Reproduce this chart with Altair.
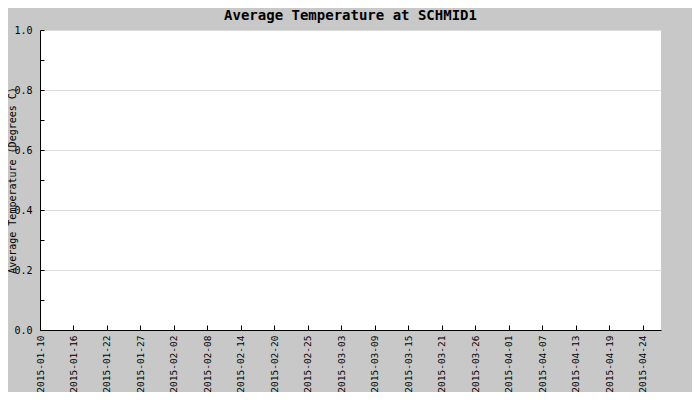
import altair as alt
import pandas as pd

# tick labels along the date axis (evenly spaced positions)
date_labels = ["2015-01-10", "2015-01-16", "2015-01-22", "2015-01-27", "2015-02-02",
               "2015-02-08", "2015-02-14", "2015-02-20", "2015-02-25", "2015-03-03",
               "2015-03-09", "2015-03-15", "2015-03-21", "2015-03-26", "2015-04-01",
               "2015-04-07", "2015-04-13", "2015-04-19", "2015-04-24"]
x_end = 18.54  # scale extends a bit past the last label
y_major = [0.0, 0.2, 0.4, 0.6, 0.8, 1.0]
y_minor = [0.0, 0.1, 0.2, 0.3, 0.4, 0.5, 0.6, 0.7, 0.8, 0.9, 1.0]
temps = [None] * len(date_labels)  # no temperature data available

df = pd.DataFrame({"idx": list(range(len(date_labels))), "label": date_labels, "temp": temps})
df["temp"] = df["temp"].astype(float)

FONT = "DejaVu Sans Mono"
arr = "[" + ",".join("'%s'" % s for s in date_labels) + "]"

xscale = alt.Scale(domain=[0, x_end], nice=False, zero=False)
yscale = alt.Scale(domain=[0, 1], nice=False)

base = alt.Chart(df).mark_point(opacity=0).encode(
    x=alt.X("idx:Q", scale=xscale, axis=alt.Axis(
        title=None, values=list(range(len(date_labels))), labelExpr=arr + "[datum.value]",
        labelAngle=-90, labelAlign="right", labelBaseline="middle", labelPadding=5,
        ticks=False, grid=False, domainColor="#000000", domainWidth=1,
        labelFont=FONT, labelFontSize=9.5, labelColor="#000000", labelOverlap=False, labelFlush=False)),
    y=alt.Y("temp:Q", scale=yscale, axis=alt.Axis(
        title="Average Temperature (Degrees C)", values=y_major, format=".1f",
        ticks=False, grid=True, gridColor="#dcdcdc", domainColor="#000000",
        labelFont=FONT, labelFontSize=10, labelColor="#000000", labelPadding=8,
        titleFont=FONT, titleFontSize=10, titleFontWeight="normal", titleColor="#000000",
        titleX=-25, titleY=150, titleAngle=-90, titleBaseline="alphabetic", titleAlign="center",
        labelFlush=False)),
)

ticks = alt.Chart(df).mark_point(opacity=0).encode(
    x=alt.X("idx:Q", scale=xscale, axis=alt.Axis(
        orient="top", offset=-300, title=None, values=list(range(len(date_labels))),
        labels=False, domain=False, grid=False, ticks=True, tickSize=5, tickColor="#000000")),
    y=alt.Y("temp:Q", scale=yscale, axis=alt.Axis(
        orient="right", offset=-621, title=None, values=y_minor,
        labels=False, domain=False, grid=False, ticks=True, tickSize=4, tickColor="#000000")),
)

chart = alt.layer(base, ticks).resolve_axis(x="independent", y="independent").properties(
    width=621, height=300,
    title=alt.TitleParams("Average Temperature at SCHMID1", font=FONT, fontSize=14,
                          fontWeight="bold", color="#000000", offset=2, anchor="middle",
                          frame="group"),
    autosize=alt.AutoSizeParams(type="none"),
    padding={"left": 32, "top": 22, "right": 31, "bottom": 62},
    background="#c8c8c8",
).configure_view(fill="#ffffff", stroke=None)

chart.save("out.html", embed_options={"renderer": "svg", "actions": False})
